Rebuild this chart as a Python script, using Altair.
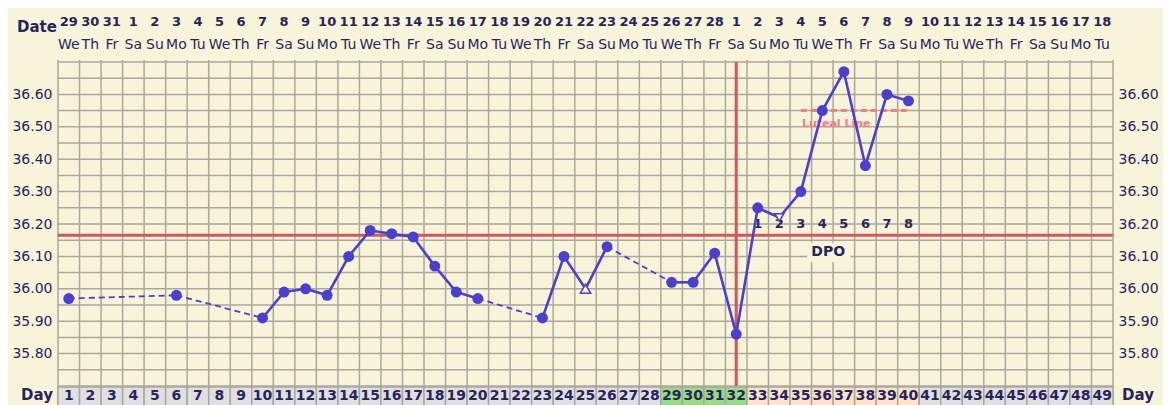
import altair as alt
import pandas as pd

# ---------------- data ----------------
days = [1, 6, 10, 11, 12, 13, 14, 15, 16, 17, 18, 19, 20, 23, 24, 25, 26,
        29, 30, 31, 32, 33, 34, 35, 36, 37, 38, 39, 40]
temps = [35.97, 35.98, 35.91, 35.99, 36.00, 35.98, 36.10, 36.18, 36.17, 36.16,
         36.07, 35.99, 35.97, 35.91, 36.10, 36.00, 36.13, 36.02, 36.02, 36.11,
         35.86, 36.25, 36.22, 36.30, 36.55, 36.67, 36.38, 36.60, 36.58]
open_up_days = [25]
open_down_days = [34]

date_labels = ["29", "30", "31"] + [str(i) for i in range(1, 29)] + [str(i) for i in range(1, 19)]
weekday_cycle = ["We", "Th", "Fr", "Sa", "Su", "Mo", "Tu"]
cycle_days = list(range(1, 50))
weekday_labels = [weekday_cycle[(d - 1) % 7] for d in cycle_days]
day_kind = (["normal"] * 28) + (["fertile"] * 4) + (["luteal"] * 8) + (["normal"] * 9)

coverline_temp = 36.165
ovulation_day = 32
luteal_temp = 36.55
luteal_start, luteal_end = 35, 40
dpo_days = list(range(33, 41))
dpo_labels = [str(i) for i in range(1, 9)]
y_ticks = [35.80, 35.90, 36.00, 36.10, 36.20, 36.30, 36.40, 36.50, 36.60]

# ---------------- style ----------------
BG = "#f8f4da"
GRID = "#aba79b"
NAVY = "#26245f"
LINE = "#4a3fd3"
RED = "#d9535a"
PINK = "#f27c88"
FONT = "DejaVu Sans"
W, H = 1055, 324

xs = alt.Scale(domain=[0.5, 49.5], nice=False, zero=False)
ys = alt.Scale(domain=[35.70, 36.70], nice=False, zero=False)

# grid
vgrid = pd.DataFrame({"x": [i + 0.5 for i in range(0, 50)]})
hgrid = pd.DataFrame({"y": [round(35.70 + 0.05 * i, 2) for i in range(0, 21)]})

vg = alt.Chart(vgrid).mark_rule(color=GRID, strokeWidth=1.5).encode(
    x=alt.X("x:Q", scale=xs, axis=None),
    y=alt.value(-2), y2=alt.value(H + 22))
hg = alt.Chart(hgrid).mark_rule(color=GRID, strokeWidth=1.5).encode(
    y=alt.Y("y:Q", scale=ys, axis=None))

# axes (left & right) via invisible points
axdf = pd.DataFrame({"y": y_ticks})
axis_common = dict(values=y_ticks, format=".2f", ticks=False, domain=False, grid=False,
                   labelFont=FONT, labelFontSize=14, labelColor=NAVY, title=None)
left_axis = alt.Chart(axdf).mark_point(opacity=0).encode(
    y=alt.Y("y:Q", scale=ys, axis=alt.Axis(orient="left", labelPadding=6, **axis_common)))
right_axis = alt.Chart(axdf).mark_point(opacity=0).encode(
    y=alt.Y("y:Q", scale=ys, axis=alt.Axis(orient="right", labelPadding=5, **axis_common)))

# day row
rowdf = pd.DataFrame({"day": cycle_days, "kind": day_kind,
                      "lab": [str(d) for d in cycle_days],
                      "date": date_labels, "wd": weekday_labels})
rowdf["x0"] = rowdf["day"] - 0.5
rowdf["x1"] = rowdf["day"] + 0.5
day_cells = alt.Chart(rowdf).mark_rect(stroke=GRID, strokeWidth=1.5).encode(
    x=alt.X("x0:Q", scale=xs, axis=None), x2="x1:Q",
    y=alt.value(H + 1), y2=alt.value(H + 22),
    fill=alt.Fill("kind:N", scale=alt.Scale(domain=["normal", "fertile", "luteal"],
                                            range=["#e0e0e2", "#9adb86", "#fde3c9"]), legend=None))
day_text = alt.Chart(rowdf).mark_text(font=FONT, fontSize=14, fontWeight="bold", color=NAVY,
                                      baseline="middle").encode(
    x=alt.X("day:Q", scale=xs, axis=None), y=alt.value(H + 10), text="lab:N")
date_text = alt.Chart(rowdf).mark_text(font=FONT, fontSize=13, fontWeight="bold", color=NAVY,
                                       baseline="middle").encode(
    x=alt.X("day:Q", scale=xs, axis=None), y=alt.value(-40), text="date:N")
wd_text = alt.Chart(rowdf).mark_text(font=FONT, fontSize=14, color=NAVY,
                                     baseline="middle").encode(
    x=alt.X("day:Q", scale=xs, axis=None), y=alt.value(-17), text="wd:N")

labels_df = pd.DataFrame({"t": ["Date", "Day", "Day"], "px": [-21, -21, W + 25],
                          "py": [-35, H + 9, H + 9]})
side_labels = alt.Chart(labels_df).mark_text(font=FONT, fontSize=15, fontWeight="bold",
                                             color=NAVY, baseline="middle").encode(
    x=alt.X("px:Q", scale=None), y=alt.Y("py:Q", scale=None), text="t:N")

# cover line and ovulation line
cover = alt.Chart(pd.DataFrame({"y": [coverline_temp]})).mark_rule(color=RED, strokeWidth=3).encode(
    y=alt.Y("y:Q", scale=ys, axis=None))
ovu = alt.Chart(pd.DataFrame({"x": [ovulation_day]})).mark_rule(color=RED, strokeWidth=3).encode(
    x=alt.X("x:Q", scale=xs, axis=None), y=alt.value(0), y2=alt.value(H))

# luteal line
lut = alt.Chart(pd.DataFrame({"x": [luteal_start], "x2": [luteal_end], "y": [luteal_temp]})).mark_rule(
    color=PINK, strokeWidth=3, strokeDash=[6, 4]).encode(
    x=alt.X("x:Q", scale=xs, axis=None), x2="x2:Q", y=alt.Y("y:Q", scale=ys, axis=None))
lut_text = alt.Chart(pd.DataFrame({"x": [luteal_start + 0.05], "y": [36.51], "t": ["Luteal Line"]})).mark_text(
    font=FONT, fontSize=11, fontWeight="bold", color=PINK, align="left", baseline="middle").encode(
    x=alt.X("x:Q", scale=xs, axis=None), y=alt.Y("y:Q", scale=ys, axis=None), text="t:N")

# DPO
dpodf = pd.DataFrame({"x": dpo_days, "t": dpo_labels, "y": [36.20] * len(dpo_days)})
dpo_text = alt.Chart(dpodf).mark_text(font=FONT, fontSize=13, fontWeight="bold", color=NAVY,
                                      baseline="middle").encode(
    x=alt.X("x:Q", scale=xs, axis=None), y=alt.Y("y:Q", scale=ys, axis=None), text="t:N")
dpo_box = alt.Chart(pd.DataFrame({"x": [35.3], "x2": [37.3], "y": [36.142], "y2": [36.083]})).mark_rect(
    color=BG).encode(x=alt.X("x:Q", scale=xs, axis=None), x2="x2:Q",
                     y=alt.Y("y:Q", scale=ys, axis=None), y2="y2:Q")
dpo_lab = alt.Chart(pd.DataFrame({"x": [36.27], "y": [36.113], "t": ["DPO"]})).mark_text(
    font=FONT, fontSize=14, fontWeight="bold", color=NAVY, baseline="middle").encode(
    x=alt.X("x:Q", scale=xs, axis=None), y=alt.Y("y:Q", scale=ys, axis=None), text="t:N")

# temperature line segments
rows = []
for i in range(len(days) - 1):
    dashed = (days[i + 1] - days[i]) > 1
    rows.append({"seg": i, "day": days[i], "temp": temps[i], "dashed": dashed, "o": 0})
    rows.append({"seg": i, "day": days[i + 1], "temp": temps[i + 1], "dashed": dashed, "o": 1})
segdf = pd.DataFrame(rows)
solid = alt.Chart(segdf[~segdf["dashed"]]).mark_line(color=LINE, strokeWidth=2.6).encode(
    x=alt.X("day:Q", scale=xs, axis=None), y=alt.Y("temp:Q", scale=ys, axis=None),
    detail="seg:N", order="o:Q")
dashed = alt.Chart(segdf[segdf["dashed"]]).mark_line(color=LINE, strokeWidth=1.8,
                                                      strokeDash=[6, 4]).encode(
    x=alt.X("day:Q", scale=xs, axis=None), y=alt.Y("temp:Q", scale=ys, axis=None),
    detail="seg:N", order="o:Q")

ptdf = pd.DataFrame({"day": days, "temp": temps})
special = set(open_up_days) | set(open_down_days)
dots = alt.Chart(ptdf[~ptdf["day"].isin(special)]).mark_circle(color=LINE, size=120, opacity=1).encode(
    x=alt.X("day:Q", scale=xs, axis=None), y=alt.Y("temp:Q", scale=ys, axis=None))
tri_up = alt.Chart(ptdf[ptdf["day"].isin(open_up_days)]).mark_point(
    shape="triangle-up", size=110, filled=True, fill=BG, stroke=LINE, strokeWidth=1.5, opacity=1).encode(
    x=alt.X("day:Q", scale=xs, axis=None), y=alt.Y("temp:Q", scale=ys, axis=None))
tri_dn = alt.Chart(ptdf[ptdf["day"].isin(open_down_days)]).mark_point(
    shape="triangle-down", size=80, filled=True, fill=BG, stroke=LINE, strokeWidth=1.5, opacity=1).encode(
    x=alt.X("day:Q", scale=xs, axis=None), y=alt.Y("temp:Q", scale=ys, axis=None))

chart = alt.layer(
    vg, hg, day_cells, left_axis, right_axis, cover, ovu, lut, lut_text,
    dpo_box, dpo_lab, dpo_text, dashed, solid, dots, tri_up, tri_dn,
    day_text, date_text, wd_text, side_labels
).resolve_axis(y="independent").properties(
    width=W, height=H,
    autosize=alt.AutoSizeParams(type="none"),
    padding={"left": 50, "top": 54, "right": 50, "bottom": 19},
    background=BG,
).configure_view(stroke=None, fill=BG)

chart.save("out.html", embed_options={"renderer": "svg", "actions": False})
